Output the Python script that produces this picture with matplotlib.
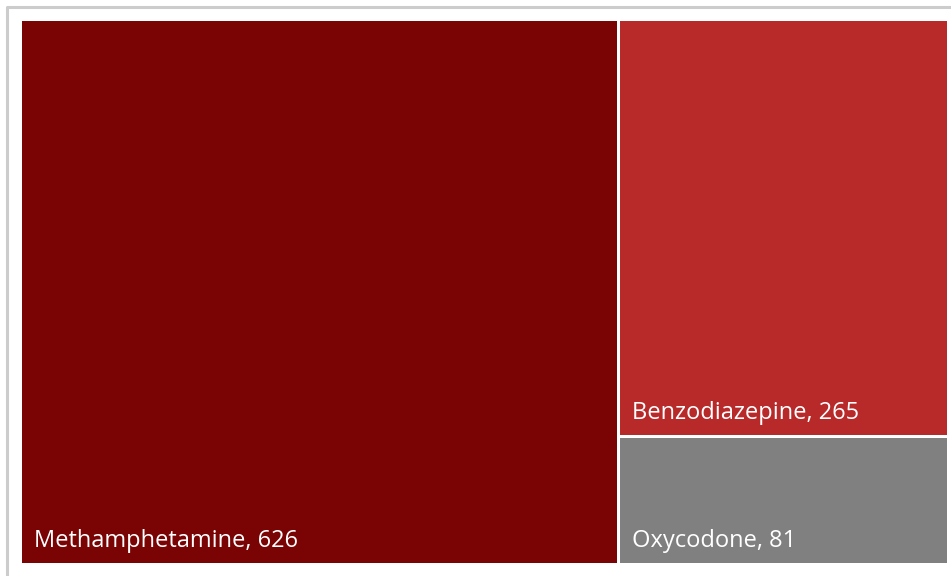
import matplotlib
matplotlib.use("Agg")
import matplotlib.pyplot as plt
from matplotlib.patches import Rectangle

categories = ["Methamphetamine", "Benzodiazepine", "Oxycodone"]
values = [626, 265, 81]
colors = ["#7a0304", "#b8292a", "#808080"]

W, H = 951, 576
fig = plt.figure(figsize=(W / 100, H / 100), dpi=100)
ax = fig.add_axes([0, 0, 1, 1])
ax.set_xlim(0, W)
ax.set_ylim(H, 0)
ax.axis("off")

# outer frame of the visual
ax.plot([6.5, 6.5, W + 5], [H + 5, 6.5, 6.5], color="#cccccc", lw=2.2, solid_capstyle="butt")

# treemap area
x0, y0, x1, y1 = 22, 21, 950, 566
gap = 3
total = sum(values)

# first category takes a full-height column, the rest stack in the remaining column
w_first = (x1 - x0) * values[0] / total
rects = [(x0, y0, w_first, y1 - y0)]
rest = sum(values[1:])
cy = y0
for v in values[1:]:
    h = (y1 - y0) * v / rest
    rects.append((x0 + w_first, cy, x1 - x0 - w_first, h))
    cy += h

for (rx, ry, rw, rh), name, v, c in zip(rects, categories, values, colors):
    ax.add_patch(Rectangle((rx, ry), rw - gap, rh - gap, facecolor=c, edgecolor="none"))
    ax.text(rx + 12, ry + rh - gap - 10, f"{name}, {v}", color="white",
            fontsize=17, family=["Open Sans", "DejaVu Sans"], ha="left", va="bottom")

fig.savefig("out.png", dpi=100)
